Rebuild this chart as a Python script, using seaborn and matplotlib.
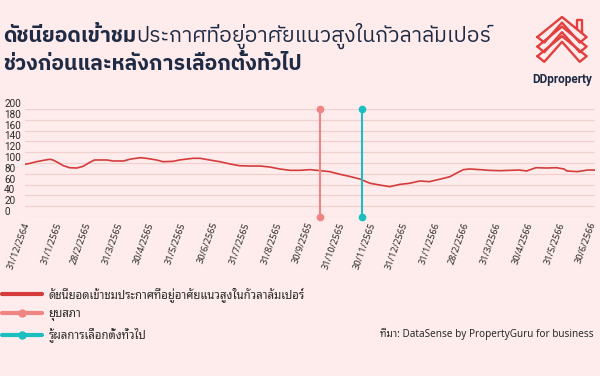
import pandas as pd
import matplotlib
matplotlib.use("Agg")
from matplotlib import pyplot as plt
from matplotlib.lines import Line2D
import seaborn as sns

# index of views
dates = ["2021-12-29", "2022-01-03", "2022-01-09", "2022-01-16", "2022-01-22", "2022-01-25",
         "2022-01-30", "2022-02-04", "2022-02-10", "2022-02-17", "2022-02-23", "2022-03-01",
         "2022-03-06", "2022-03-18", "2022-03-24", "2022-04-03", "2022-04-09", "2022-04-19",
         "2022-04-25", "2022-05-05", "2022-05-11", "2022-05-21", "2022-05-27", "2022-06-09",
         "2022-06-16", "2022-06-25", "2022-07-05", "2022-07-15", "2022-07-24", "2022-08-03",
         "2022-08-13", "2022-08-22", "2022-09-01", "2022-09-11", "2022-09-20", "2022-09-30",
         "2022-10-10", "2022-10-19", "2022-10-29", "2022-11-07", "2022-11-17", "2022-11-27",
         "2022-12-06", "2022-12-16", "2022-12-26", "2023-01-04", "2023-01-14", "2023-01-23",
         "2023-02-02", "2023-02-12", "2023-02-18", "2023-02-25", "2023-03-03", "2023-03-13",
         "2023-03-22", "2023-04-01", "2023-04-11", "2023-04-20", "2023-04-27", "2023-05-06",
         "2023-05-16", "2023-05-26", "2023-06-02", "2023-06-05", "2023-06-15", "2023-06-25",
         "2023-07-02"]
index_values = [97.6, 99.4, 102.4, 105.0, 106.9, 105.6,
                100.6, 95.0, 91.3, 90.7, 93.8, 100.6,
                105.6, 105.6, 103.7, 103.7, 106.9, 109.8,
                108.7, 105.6, 102.4, 103.1, 105.6, 108.7,
                108.7, 105.6, 102.4, 98.1, 95.0, 94.4,
                94.4, 92.6, 88.9, 86.4, 86.4, 87.7,
                85.8, 84.0, 79.0, 75.3, 70.4, 62.4,
                59.3, 56.2, 60.5, 62.4, 66.7, 65.4,
                69.8, 74.6, 80.9, 87.7, 88.9, 87.7,
                86.4, 85.8, 86.4, 87.0, 85.2, 91.3,
                90.7, 91.3, 88.9, 85.2, 84.0, 87.0,
                87.0]

dissolve_date = "2022-10-10"
result_date = "2022-11-19"

tick_dates = ["2021-12-31", "2022-01-31", "2022-02-28", "2022-03-31", "2022-04-30", "2022-05-31",
              "2022-06-30", "2022-07-31", "2022-08-31", "2022-09-30", "2022-10-31", "2022-11-30",
              "2022-12-31", "2023-01-31", "2023-02-28", "2023-03-31", "2023-04-30", "2023-05-31",
              "2023-06-30"]
tick_labels = ["31/12/2564", "31/1/2565", "28/2/2565", "31/3/2565", "30/4/2565", "31/5/2565",
               "30/6/2565", "31/7/2565", "31/8/2565", "30/9/2565", "31/10/2565", "30/11/2565",
               "31/12/2565", "31/1/2566", "28/2/2566", "31/3/2566", "30/4/2566", "31/5/2566",
               "30/6/2566"]
y_ticks = [0, 20, 40, 60, 80, 100, 120, 140, 160, 180, 200]

series_label = "ดัชนียอดเข้าชมประกาศที่อยู่อาศัยแนวสูงในกัวลาลัมเปอร์"
dissolve_label = "ยุบสภา"
result_label = "รู้ผลการเลือกตั้งทั่วไป"
title_bold_1 = "ดัชนียอดเข้าชม"
title_reg_1 = "ประกาศที่อยู่อาศัยแนวสูงในกัวลาลัมเปอร์"
title_bold_2 = "ช่วงก่อนและหลังการเลือกตั้งทั่วไป"
source = "ที่มา: DataSense by PropertyGuru for business"

BG = "#fdeceb"
NAVY = "#1f2a44"
TXT = "#2b2b2b"
RED = "#d63b3b"
PINK = "#f08482"
TEAL = "#1bbfc0"

TITLE_FONT = ["IBM Plex Sans Thai", "Anuphan", "DejaVu Sans"]
SMALL_FONT = ["Noto Sans Thai Looped", "Sarabun", "DejaVu Sans"]
NUM_FONT = ["Roboto", "DejaVu Sans"]

sns.set_theme(style="white")
plt.rcParams["font.family"] = NUM_FONT

df = pd.DataFrame({"date": pd.to_datetime(dates), "value": index_values})

fig = plt.figure(figsize=(6, 3.76), dpi=100)
fig.patch.set_facecolor(BG)
ax = fig.add_axes([25 / 600, 1 - 217 / 376, 570 / 600, 108 / 376])
ax.set_facecolor(BG)

sns.lineplot(data=df, x="date", y="value", ax=ax, color=RED, linewidth=1.2)
for d, c in [(dissolve_date, PINK), (result_date, TEAL)]:
    ax.plot([pd.Timestamp(d)] * 2, [y_ticks[0], y_ticks[-1]], color=c, lw=1.5,
            marker="o", ms=4.5, clip_on=False, zorder=4)

ax.set_xlim(pd.Timestamp("2021-12-29"), pd.Timestamp("2023-07-02"))
ax.set_ylim(0, 200)
ax.set_xlabel("")
ax.set_ylabel("")
ax.set_yticks(y_ticks)
ax.set_yticklabels([str(v) for v in y_ticks], fontsize=7.2, color=TXT)
for lbl in ax.get_yticklabels():
    lbl.set_horizontalalignment("left")
    lbl.set_verticalalignment("bottom")
ax.tick_params(axis="y", length=0, pad=15)
ax.set_xticks(pd.to_datetime(tick_dates))
ax.set_xticklabels(tick_labels, rotation=70, ha="right", va="center",
                   rotation_mode="anchor", fontsize=6.6, color=TXT, family=SMALL_FONT)
ax.tick_params(axis="x", length=0, pad=4)
ax.grid(axis="y", color="#f2cfcf", lw=0.9)
for s in ax.spines.values():
    s.set_visible(False)

# title, first part of line one in bold
t1 = fig.text(3 / 600, 1 - 42 / 376, title_bold_1, fontsize=15.2, fontweight="bold",
              color=NAVY, family=TITLE_FONT)
fig.canvas.draw()
bb = t1.get_window_extent()
fig.text(bb.x1 / 600, 1 - 42 / 376, title_reg_1, fontsize=15.2, color=NAVY, family=TITLE_FONT)
fig.text(3 / 600, 1 - 70 / 376, title_bold_2, fontsize=15.2, fontweight="bold", color=NAVY,
         family=TITLE_FONT)

# legend
handles = [Line2D([], [], color=RED, lw=3),
           Line2D([], [], color=PINK, lw=3, marker="o", ms=5),
           Line2D([], [], color=TEAL, lw=3, marker="o", ms=5)]
fig.legend(handles, [series_label, dissolve_label, result_label], loc="upper left",
           bbox_to_anchor=(2 / 600, 1 - 287 / 376), frameon=False,
           prop={"family": SMALL_FONT, "size": 8.2},
           handlelength=3.5, handletextpad=0.6, labelspacing=0.6, borderaxespad=0,
           borderpad=0, numpoints=1, labelcolor=TXT)
fig.text(594 / 600, 1 - 334 / 376, source, ha="right", va="center", fontsize=7.2,
         color=TXT, family=SMALL_FONT)

# logo
lax = fig.add_axes([530 / 600, 1 - 68 / 376, 64 / 600, 54 / 376])
lax.set_xlim(-1.3, 1.3)
lax.set_ylim(-1.55, 1.15)
lax.axis("off")
for off in [0, -0.48, -0.96]:
    xs = [-1, 0, 1, 0.72, 0, -0.72, -1]
    ys = [0, 1, 0, -0.28, 0.72, -0.28, 0]
    lax.plot(xs, [y + off for y in ys], color="#e2403f", lw=1.7, solid_joinstyle="round")
lax.plot([0.62, 0.62, 0.8, 0.8], [0.38, 0.85, 0.85, 0.2], color="#e2403f", lw=1.7)
fig.text(562 / 600, 1 - 80 / 376, "DDproperty", ha="center", va="center", fontsize=8.5,
         fontweight="bold", color=NAVY, family=NUM_FONT)

fig.savefig("out.png", dpi=100, facecolor=BG)
